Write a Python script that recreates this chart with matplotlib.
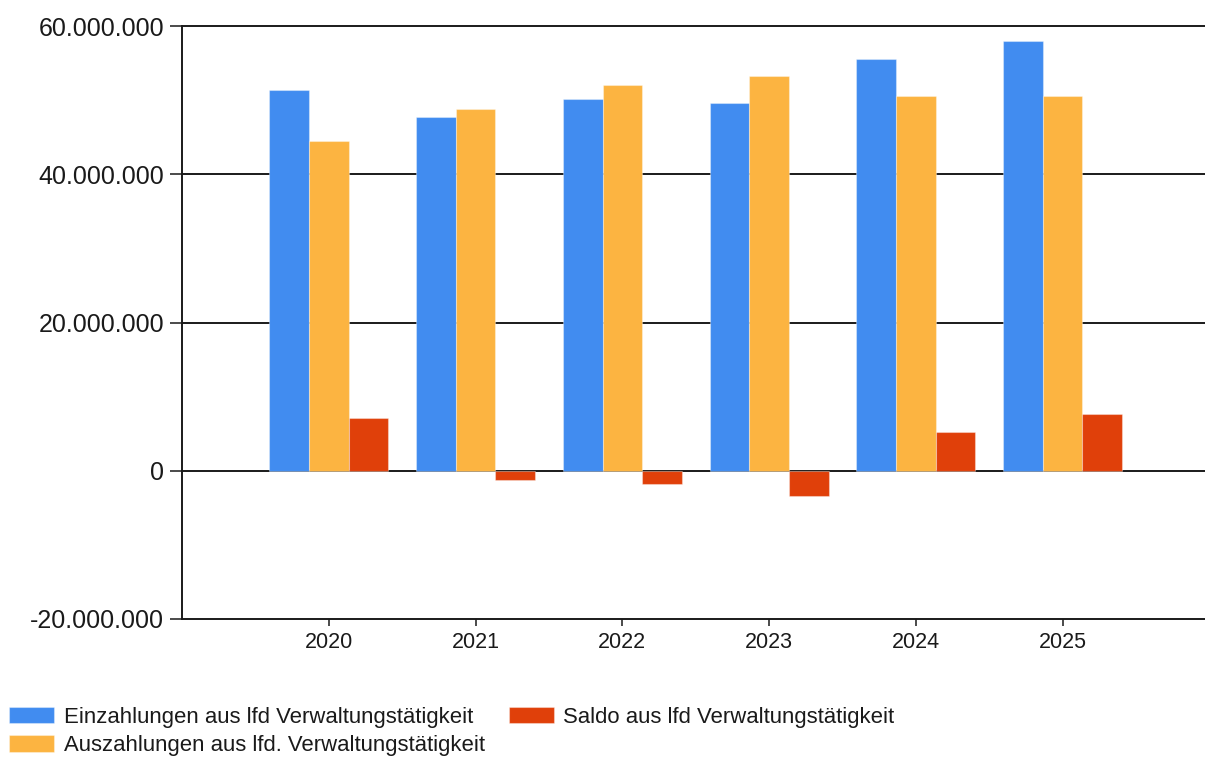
import matplotlib
matplotlib.use("Agg")
import matplotlib.pyplot as plt
import numpy as np
from matplotlib.ticker import FuncFormatter, FixedLocator

plt.rcParams['font.family'] = ['Liberation Sans', 'DejaVu Sans']

years = ["2020", "2021", "2022", "2023", "2024", "2025"]
einzahlungen = [51.3e6, 47.75e6, 50.2e6, 49.65e6, 55.6e6, 58.0e6]
auszahlungen = [44.5e6, 48.8e6, 52.1e6, 53.2e6, 50.5e6, 50.5e6]
saldo = [7.06e6, -1.25e6, -1.8e6, -3.4e6, 5.2e6, 7.6e6]
series_names = ["Einzahlungen aus lfd Verwaltungstätigkeit",
                "Auszahlungen aus lfd. Verwaltungstätigkeit",
                "Saldo aus lfd Verwaltungstätigkeit"]
colors = ["#418CF0", "#FCB441", "#E0400A"]
y_ticks = [-20e6, 0, 20e6, 40e6, 60e6]

W, H = 1205, 758
fig = plt.figure(figsize=(W / 100, H / 100), dpi=100)
ax = fig.add_axes([182 / W, 1 - 619 / H, 1 - 182 / W, (619 - 26) / H])

x = np.arange(1, len(years) + 1)
bw = 0.27
for i, (vals, name, c) in enumerate(zip([einzahlungen, auszahlungen, saldo], series_names, colors)):
    ax.bar(x + (i - 1) * bw, vals, width=bw, color=c, label=name,
           edgecolor=(1, 1, 1, 0.35), linewidth=0.8, zorder=3)

ax.set_xlim(0, 1022.5 / 146.7)
ax.set_ylim(-20e6, 60e6)
ax.yaxis.set_major_locator(FixedLocator(y_ticks))
ax.yaxis.set_major_formatter(FuncFormatter(lambda v, p: f"{int(round(v)):,}".replace(",", ".")))
ax.set_xticks(x)
ax.set_xticklabels(years)

for v in y_ticks[1:]:
    ax.axhline(v, color="#1a1a1a", lw=1.4, zorder=2, clip_on=False)

for s in ["top", "right"]:
    ax.spines[s].set_visible(False)
for s in ["left", "bottom"]:
    ax.spines[s].set_color("#1a1a1a")
    ax.spines[s].set_linewidth(1.4)

ax.tick_params(axis="y", length=9, width=1.1, color="#1a1a1a", labelsize=18, pad=4, labelcolor="#1a1a1a")
ax.tick_params(axis="x", length=5, width=1.1, color="#1a1a1a", labelsize=15.5, pad=4.5, labelcolor="#1a1a1a")

handles, labels = ax.get_legend_handles_labels()
fig.legend(handles, labels, ncol=2, loc="upper left",
           bbox_to_anchor=(9 / W, 1 - 707 / H), frameon=False,
           fontsize=15.9, handlelength=2.05, handleheight=0.75,
           handletextpad=0.42, columnspacing=1.1, labelspacing=0.33,
           borderpad=0, borderaxespad=0, labelcolor="#1a1a1a")

fig.savefig("out.png", dpi=100)
